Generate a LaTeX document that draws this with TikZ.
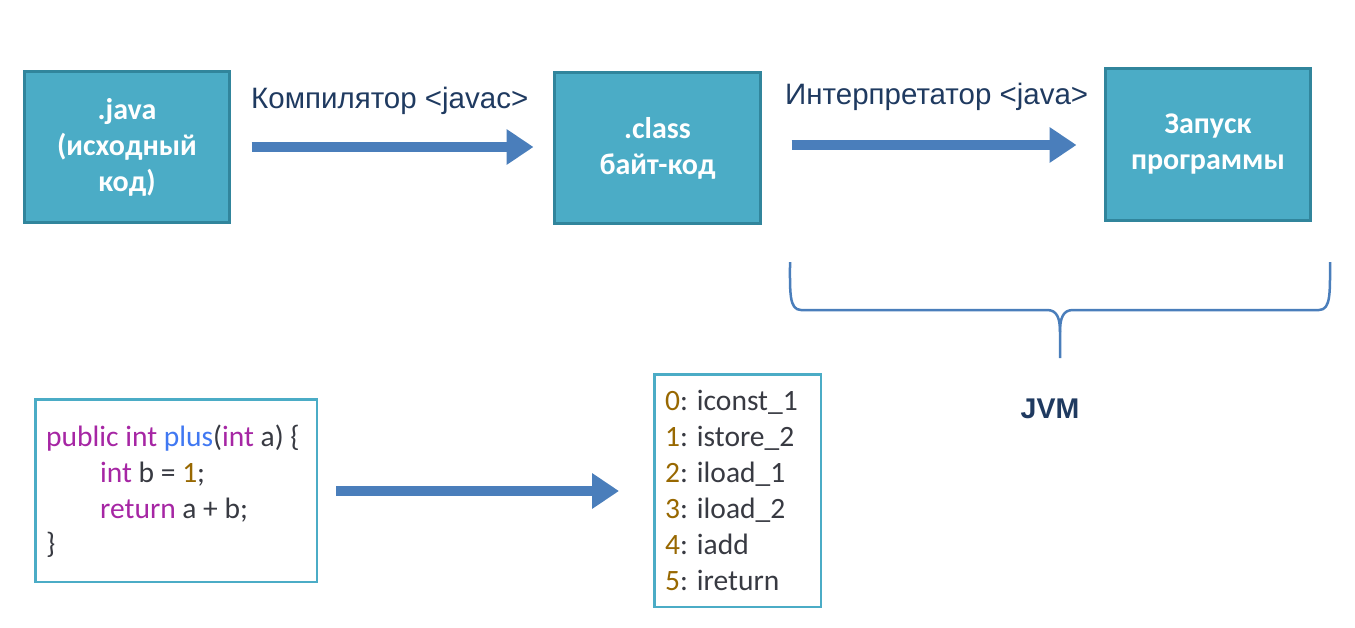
\documentclass[tikz,border=0pt]{standalone}
\usepackage{fontspec}
\newfontfamily\carlito{Carlito}
\newfontfamily\arialf{Liberation Sans}
\usetikzlibrary{arrows.meta,calc}
\definecolor{boxfill}{HTML}{4BACC6}
\definecolor{boxedge}{HTML}{31859C}
\definecolor{arrowblue}{HTML}{4A7EBB}
\definecolor{navy}{HTML}{1F3A60}
\definecolor{kwc}{HTML}{A626A4}
\definecolor{fnc}{HTML}{4078F2}
\definecolor{numc}{HTML}{986801}
\definecolor{txtc}{HTML}{383A42}
\newcommand{\kw}[1]{\textcolor{kwc}{#1}}
\newcommand{\fn}[1]{\textcolor{fnc}{#1}}
\newcommand{\nm}[1]{\textcolor{numc}{#1}}
\tikzset{
  bluebox/.style={draw=boxedge, fill=boxfill, line width=3pt, text=white,
    font={\carlito\bfseries\fontsize{30}{36}\selectfont}, align=center, inner sep=0pt},
  codebox/.style={draw=boxfill, line width=2.5pt, fill=white, inner sep=0pt},
  codeline/.style={anchor=base west, inner sep=0pt, text=txtc,
    font={\carlito\fontsize{29.5}{35.7}\selectfont}},
  lbl/.style={anchor=base west, inner sep=0pt, text=navy,
    font={\arialf\fontsize{29.5}{35}\selectfont}},
  bigarrow/.style={draw=arrowblue, line width=9.5pt,
    -{Triangle[length=27pt,width=34pt]}},
  bracestyle/.style={draw=arrowblue, line width=2.5pt, line join=round}
}
\begin{document}
\begin{tikzpicture}[x=1pt,y=-1pt]
\useasboundingbox (0,0) rectangle (1355,627);
% top boxes
\node[bluebox, minimum width=205pt, minimum height=151pt] (java) at (127,147)
  {.java\\(исходный\\код)};
\node[bluebox, minimum width=206pt, minimum height=151pt] (cls) at (657.5,148)
  {.class\\байт-код};
\node[bluebox, minimum width=205pt, minimum height=152pt] (run) at (1208,144.5)
  {Запуск\\программы};
% labels
\node[lbl] (lblc) at (251,108.3) {Компилятор <javac>};
\node[lbl] (lbli) at (785,104) {Интерпретатор <java>};
% top arrows
\coordinate (a1s) at ($(java.east)+(20.5,0)$);
\coordinate (a1e) at ($(cls.west)+(-19.5,0)$);
\draw[bigarrow] (a1s) -- (a1s -| a1e);
\coordinate (a2s) at ($(cls.east)+(29.5,-3)$);
\coordinate (a2e) at ($(run.west)+(-27.5,0)$);
\draw[bigarrow] (a2s) -- (a2s -| a2e);
% brace
\coordinate (bl) at (790,262);
\coordinate (br) at (1330,262);
\coordinate (bt) at (1060,358);
\draw[bracestyle] (bl) .. controls (790,292) and (789,310) .. (801,310)
  -- (1047,310) .. controls (1057,310) and (1060,318) .. (1060,332) -- (bt);
\draw[bracestyle] (br) .. controls (1330,292) and (1331,310) .. (1319,310)
  -- (1073,310) .. controls (1063,310) and (1060,318) .. (1060,332);
\node[inner sep=0pt, text=navy, font={\arialf\bfseries\fontsize{28.5}{34}\selectfont}]
  (jvm) at (1050,409) {JVM};
% code box
\node[codebox, minimum width=281.5pt, minimum height=182.5pt] (code) at (176,490.5) {};
\node[codeline] (c1) at (46,446.7) {\kw{public} \kw{int} \fn{plus}(\kw{int} a) \{};
\node[codeline] (c2) at (100,482.4) {\kw{int} b = \nm{1};};
\node[codeline] (c3) at (100,518.1) {\kw{return} a + b;};
\node[codeline] (c4) at (46,553.8) {\}};
% bytecode box
\node[codebox, minimum width=166.5pt, minimum height=232.5pt] (bc) at (737.5,490.5) {};
\node[codeline] (b0) at (665,410.5) {\nm{0}: iconst\_1};
\node[codeline] (b1) at (665,446.5) {\nm{1}: istore\_2};
\node[codeline] (b2) at (665,482.5) {\nm{2}: iload\_1};
\node[codeline] (b3) at (665,518.5) {\nm{3}: iload\_2};
\node[codeline] (b4) at (665,554.5) {\nm{4}: iadd};
\node[codeline] (b5) at (665,590.5) {\nm{5}: ireturn};
% bottom arrow
\coordinate (a3s) at ($(code.east)+(18,0.5)$);
\coordinate (a3e) at ($(bc.west)+(-34,0)$);
\draw[bigarrow] (a3s) -- (a3s -| a3e);
\end{tikzpicture}
\end{document}
